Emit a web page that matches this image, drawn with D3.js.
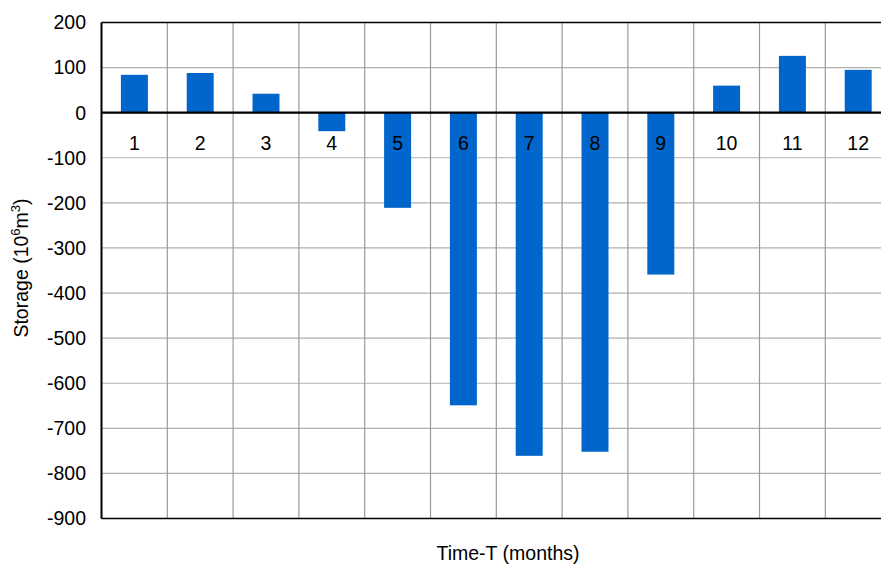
<!DOCTYPE html>
<html>
<head>
<meta charset="utf-8">
<script src="https://cdn.jsdelivr.net/npm/d3@7"></script>
<style>
  body { margin: 0; background: #fff; }
  text { font-family: "Liberation Sans", Arial, sans-serif; fill: #000; }
</style>
</head>
<body>
<script>
const months = ['1', '2', '3', '4', '5', '6', '7', '8', '9', '10', '11', '12']
const storage = [84, 88, 42, -41, -211, -649, -761, -752, -359, 60, 126, 95]
const yTicks = [200, 100, 0, -100, -200, -300, -400, -500, -600, -700, -800, -900]

const WIDTH = 881
const HEIGHT = 564
const plotLeft = 101.5
const plotTop = 22.5
const plotBottom = 518.5
const plotRight = plotLeft + 12 * 65.8

const svg = d3.select(document.body).append('svg')
  .attr('width', WIDTH)
  .attr('height', HEIGHT)
  .style('display', 'block')

const x = d3.scaleBand().domain(months).range([plotLeft, plotRight]).paddingInner(0).paddingOuter(0)
const y = d3.scaleLinear().domain([-900, 200]).range([plotBottom, plotTop])
const barW = x.bandwidth() * 0.41

// horizontal grid
svg.append('g').selectAll('line')
  .data(yTicks)
  .enter()
  .append('line')
  .attr('x1', plotLeft).attr('x2', plotRight)
  .attr('y1', d => y(d)).attr('y2', d => y(d))
  .attr('stroke', '#b0b0b0')
  .attr('stroke-width', 1.2)

// vertical grid at band edges
svg.append('g').selectAll('line')
  .data(months.slice(1))
  .enter()
  .append('line')
  .attr('x1', d => x(d)).attr('x2', d => x(d))
  .attr('y1', plotTop).attr('y2', plotBottom)
  .attr('stroke', '#999')
  .attr('stroke-width', 1.2)

// bars
svg.append('g').selectAll('rect')
  .data(storage)
  .enter()
  .append('rect')
  .attr('x', (d, i) => x(months[i]) + x.bandwidth() / 2 - barW / 2)
  .attr('width', barW)
  .attr('y', d => y(Math.max(0, d)))
  .attr('height', d => Math.abs(y(d) - y(0)))
  .attr('fill', '#0066cc')

// frame lines
svg.append('line').attr('x1', plotLeft).attr('x2', plotRight).attr('y1', plotTop).attr('y2', plotTop)
  .attr('stroke', '#000').attr('stroke-width', 1.5)
svg.append('line').attr('x1', plotLeft).attr('x2', plotRight).attr('y1', plotBottom).attr('y2', plotBottom)
  .attr('stroke', '#000').attr('stroke-width', 1.5)
svg.append('line').attr('x1', plotLeft).attr('x2', plotRight).attr('y1', y(0)).attr('y2', y(0))
  .attr('stroke', '#000').attr('stroke-width', 2.2)
svg.append('line').attr('x1', plotLeft).attr('x2', plotLeft).attr('y1', plotTop).attr('y2', plotBottom)
  .attr('stroke', '#000').attr('stroke-width', 2)

// y tick labels
svg.append('g').selectAll('text')
  .data(yTicks)
  .enter()
  .append('text')
  .attr('x', 86)
  .attr('y', d => y(d))
  .attr('dy', '0.35em')
  .attr('text-anchor', 'end')
  .attr('font-size', 19.5)
  .text(d => d)

// month labels
svg.append('g').selectAll('text')
  .data(months)
  .enter()
  .append('text')
  .attr('x', d => x(d) + x.bandwidth() / 2)
  .attr('y', 143)
  .attr('dy', '0.35em')
  .attr('text-anchor', 'middle')
  .attr('font-size', 19.5)
  .text(d => d)

// axis titles
svg.append('text')
  .attr('x', 508)
  .attr('y', 553)
  .attr('dy', '0.35em')
  .attr('text-anchor', 'middle')
  .attr('font-size', 19.5)
  .text('Time-T (months)')

const yTitle = svg.append('text')
  .attr('transform', 'translate(28,268) rotate(-90)')
  .attr('text-anchor', 'middle')
  .attr('font-size', 19.5)
yTitle.append('tspan').text('Storage (10')
yTitle.append('tspan').attr('font-size', 13).attr('dy', -8).text('6')
yTitle.append('tspan').attr('dy', 8).text('m')
yTitle.append('tspan').attr('font-size', 13).attr('dy', -8).text('3')
yTitle.append('tspan').attr('dy', 8).text(')')
</script>
</body>
</html>
